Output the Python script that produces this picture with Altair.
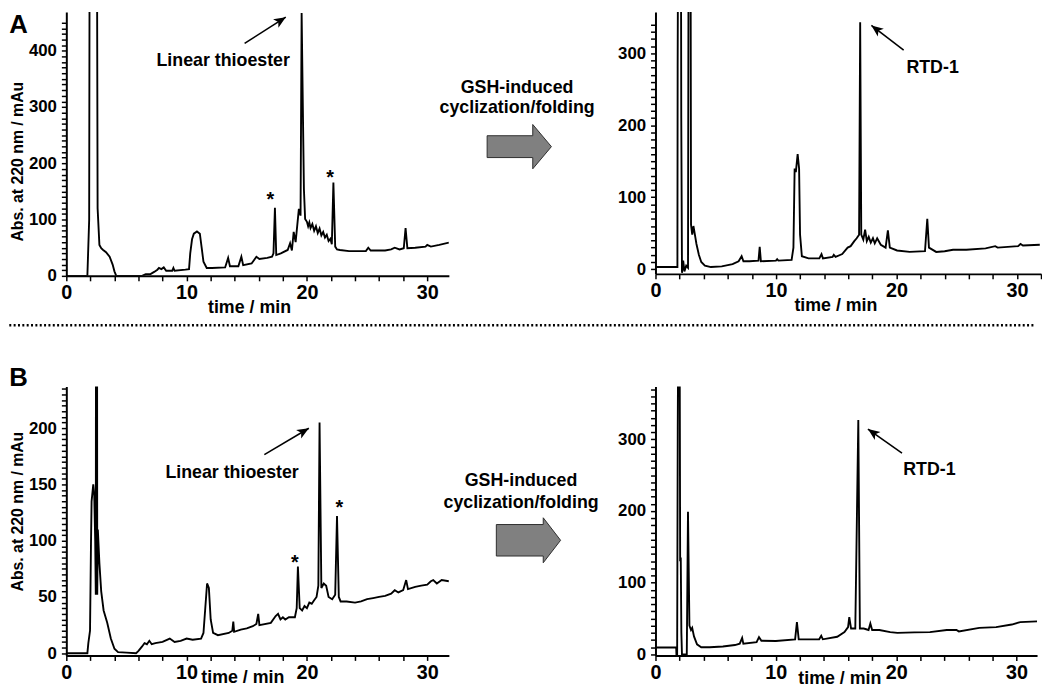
import math
import altair as alt
import pandas as pd

FONT = "Liberation Sans"

# ---------------- data ----------------
# Panel A, left: linear thioester crude
A_LEFT_TIME = [0, 1.75, 1.9, 2.0, 2.45, 2.6, 2.75, 2.9, 3.06, 3.3, 3.6, 3.85, 4.0, 4.15,
               6.3, 6.6, 7.0, 7.3, 7.57, 7.7, 7.9, 8.1, 8.3, 8.8, 8.9, 9.0, 9.9, 10.2,
               10.3, 10.45, 10.6, 10.86, 11.1, 11.25, 11.4, 11.67, 12.1, 13.2, 13.45, 13.6,
               14.3, 14.55, 14.7, 15.4, 15.8, 16.05, 16.7, 17.1, 17.22, 17.34, 17.45, 17.83,
               18.4, 18.6, 18.75, 18.9, 19.06, 19.33, 19.47, 19.56, 19.66, 19.75, 19.85,
               20.0, 20.1, 20.2, 20.3, 20.45, 20.6, 20.75, 20.9, 21.05, 21.2, 21.35, 21.5,
               21.65, 21.8, 21.95, 22.07, 22.2, 22.35, 22.5, 22.75, 23.5, 24.1, 24.9, 25.1,
               25.3, 26.5, 27.0, 27.3, 27.7, 28.05, 28.2, 28.35, 29.0, 29.86, 30.0, 30.3,
               31.0, 31.8]
A_LEFT_ABS = [0, 0, 100, 1500, 1500, 120, 55, 49, 46, 42, 34, 20, 8, 0,
              0, 3, 3, 7, 11, 14, 12, 15, 9, 9, 14, 9, 11, 12,
              40, 65, 75, 79, 75, 50, 25, 14, 14, 15, 32, 17,
              17, 34, 19, 22, 34, 30, 32, 34, 40, 121, 37, 40,
              46, 58, 45, 78, 60, 119, 107, 467, 300, 154, 101,
              96, 88, 95, 85, 92, 80, 88, 76, 84, 72, 78, 68,
              73, 62, 66, 56, 166, 52, 47, 46, 44, 44, 44, 50,
              45, 45, 47, 50, 47, 49, 85, 49, 50, 52, 55, 52,
              55, 59]

# Panel A, right: after GSH-induced cyclization/folding
A_RIGHT_TIME = [0, 1.82, 1.84, 1.9, 2.1, 2.14, 2.2, 2.3, 2.4, 2.55, 2.7, 2.76, 2.9, 2.95,
                3.05, 3.15, 3.25, 3.4, 3.6, 3.8, 4.1, 4.6, 5.5, 6.4, 6.9, 7.15, 7.3, 7.8,
                8.55, 8.65, 8.75, 10.0, 10.1, 10.2, 11.3, 11.45, 11.55, 11.65, 11.8, 11.92,
                12.0, 12.15, 12.7, 13.6, 13.78, 13.9, 14.7, 14.8, 14.95, 15.5, 15.95, 16.2,
                16.5, 16.7, 16.9, 16.99, 17.08, 17.25, 17.4, 17.54, 17.7, 17.87, 18.05,
                18.2, 18.4, 18.7, 19.1, 19.29, 19.45, 20.05, 21.1, 22.37, 22.56, 22.7,
                23.3, 24.0, 24.7, 25.8, 27.4, 28.2, 28.4, 30.1, 30.3, 30.5, 31.9]
A_RIGHT_ABS = [3, 3, 280, 600, 600, 210, -5, 12, -3, 5, 2, 600, 600, 62,
               48, 60, 50, 35, 20, 10, 5, 3, 4, 7, 11, 18, 11, 11,
               12, 31, 11, 12, 14, 12, 13, 30, 140, 135, 160, 140,
               48, 18, 15, 15, 21, 15, 17, 20, 17, 21, 30, 32,
               39, 43, 48, 343, 48, 41, 55, 39, 45, 37, 43,
               36, 43, 34, 30, 54, 30, 26, 24, 25, 70, 30,
               24, 25, 27, 27, 29, 32, 30, 32, 35, 33, 34]

# Panel B, left: linear thioester crude
B_LEFT_TIME = [0, 1.75, 1.83, 1.97, 2.05, 2.1, 2.24, 2.32, 2.4, 2.45, 2.47, 2.55, 2.57,
               2.62, 2.75, 2.9, 3.1, 3.4, 3.7, 4.0, 4.3, 5.0, 5.8, 6.0, 6.3, 6.5, 6.7,
               6.9, 7.1, 7.4, 8.0, 8.6, 9.0, 9.5, 10.0, 10.5, 11.2, 11.4, 11.55, 11.7,
               11.85, 12.0, 12.2, 12.6, 13.5, 13.8, 13.88, 13.95, 14.5, 15.0, 15.5, 15.8,
               15.95, 16.05, 17.0, 17.4, 17.6, 17.8, 18.0, 18.2, 18.5, 19.0, 19.15, 19.25,
               19.4, 19.6, 19.8, 20.0, 20.2, 20.4, 20.6, 20.8, 20.95, 21.05, 21.2, 21.4,
               21.6, 21.8, 22.1, 22.35, 22.5, 22.65, 22.8, 23.3, 24.0, 24.5, 25.0, 25.5,
               26.0, 26.5, 27.0, 27.3, 27.6, 28.0, 28.25, 28.4, 29.0, 29.5, 30.0, 30.3,
               30.5, 30.8, 31.2, 31.8]
B_LEFT_ABS = [0, 0, 9, 20, 97, 135, 150, 141, 100, 52, 400, 400, 52,
              110, 80, 55, 38, 27, 13, 4, 1, 0.5, 0, 2, 6, 9, 8,
              11, 8, 9, 10, 13, 10, 11, 13, 12, 13, 18, 40, 62,
              58, 30, 18, 16, 18, 20, 28, 19, 21, 22, 24, 26,
              35, 25, 27, 33, 35, 30, 32, 30, 32, 32, 40, 77,
              40, 38, 42, 40, 45, 44, 47, 50, 60, 205, 58, 62,
              60, 50, 48, 52, 122, 50, 46, 46, 45, 46, 48, 49,
              50, 51, 53, 56, 54, 56, 65, 57, 59, 60, 61, 64,
              65, 62, 65, 64]

# Panel B, right: after GSH-induced cyclization/folding
B_RIGHT_TIME = [0, 1.72, 1.74, 1.8, 1.85, 1.9, 2.0, 2.05, 2.1, 2.15, 2.2, 2.6, 2.7, 2.82,
                2.95, 3.05, 3.2, 3.45, 3.8, 4.5, 5.6, 6.6, 7.0, 7.2, 7.3, 8.4, 8.6, 8.8,
                10.0, 11.6, 11.75, 11.9, 13.6, 13.77, 13.9, 15.1, 15.7, 16.0, 16.1, 16.25,
                16.6, 16.85, 16.98, 17.3, 17.7, 17.85, 18.0, 18.6, 19.5, 20.1, 21.5, 22.8,
                24.2, 25.0, 25.2, 26.9, 28.3, 29.6, 30.3, 31.7]
B_RIGHT_ABS = [9.5, 9.5, 0, 0, 315, 500, 500, 130, 135, 30, 0, 0, 199, 40,
               34, 37, 25, 14, 10, 10, 11, 13, 15, 23, 15, 17, 24, 19,
               18.6, 21, 45, 21, 21, 26, 21, 24.6, 31, 38, 52, 36,
               36, 327, 36, 36, 34, 43, 34, 34, 31, 30, 30.6, 31,
               34, 34, 32, 37, 38, 41.6, 45, 46]

# annotations (data coordinates)
PRODUCT_LABELS = ["Linear thioester", "RTD-1", "Linear thioester", "RTD-1"]
LABEL_TIME = [13.04, 23.0, 13.78, 22.76]
LABEL_ABS = [382, 279, 160.4, 257]
ARROW_FROM_TIME = [14.82, 20.6, 16.46, 20.48]
ARROW_FROM_ABS = [413, 304.4, 176.5, 280.7]
ARROW_TO_TIME = [18.24, 17.92, 20.16, 17.65]
ARROW_TO_ABS = [459.7, 338.7, 200, 314.2]
STAR_A_TIME = [16.96, 21.93]
STAR_A_ABS = [125, 163]
STAR_B_TIME = [19.0, 22.7]
STAR_B_ABS = [75, 124]
PANEL_LETTERS = ["A", "B"]
MID_LINES = ["GSH-induced", "cyclization/folding"]
X_TITLE = "time / min"
Y_TITLE = "Abs. at 220 nm / mAu"

# small arrow head (tip at 0,0); large path coords keep the symbol's bounds small
HEAD = "M0,0 L2,4.8 L0,3.6 L-2,4.8 Z"


def head_angle(t0, v0, t1, v1, xdom, ydom, w, h):
    sx = w / (xdom[1] - xdom[0])
    sy = h / (ydom[1] - ydom[0])
    dx = (t1 - t0) * sx
    dy = -(v1 - v0) * sy
    return math.degrees(math.atan2(dx, -dy)) % 360


def panel(i, time, absv, xdom, ydom, w, h, ystep, ylab, xtitle_xy,
          ytitle_y=None, stars=None, letter=None, letter_y=0, divider_y=None,
          top_room=0):
    xvals = [v for v in range(0, 33, 2) if v <= xdom[1]]
    units_px = (ydom[1] - ydom[0]) / h
    ymax_tick = ydom[1] - top_room * units_px
    yvals = [v for v in range(0, 1000, ystep) if v <= ymax_tick]
    xaxis = alt.Axis(values=xvals, labelExpr="datum.value % 10 === 0 ? datum.label : ''",
                     title=X_TITLE, titleX=xtitle_xy[0], titleY=xtitle_xy[1],
                     titleAlign="center", titleBaseline="middle", titleFontSize=18,
                     tickSize=5, tickWidth=1.5, domainWidth=2, labelPadding=2,
                     labelFontSize=20, labelFlush=False, labelOverlap=False, grid=False)
    if ytitle_y is not None:
        yaxis = alt.Axis(values=yvals,
                         labelExpr="datum.value %% %d === 0 ? datum.label : ''" % ylab,
                         title=Y_TITLE, titleX=-49, titleY=ytitle_y, titleAngle=270,
                         titleAlign="center", titleBaseline="middle", titleFontSize=16,
                         tickSize=5, tickWidth=1.5, domainWidth=2, labelPadding=5,
                         labelFontSize=17, labelOverlap=False, grid=False)
    else:
        yaxis = alt.Axis(values=yvals,
                         labelExpr="datum.value %% %d === 0 ? datum.label : ''" % ylab,
                         title=None, tickSize=5, tickWidth=1.5, domainWidth=2,
                         labelPadding=5, labelFontSize=17, labelOverlap=False, grid=False)
    X = alt.X("t:Q", scale=alt.Scale(domain=xdom, nice=False, zero=False), axis=xaxis)
    Y = alt.Y("v:Q", scale=alt.Scale(domain=ydom, nice=False, zero=False), axis=yaxis)

    df = pd.DataFrame({"t": time, "v": absv, "i": list(range(len(time)))})
    line = alt.Chart(df).mark_line(color="black", strokeWidth=1.9, clip=True).encode(
        x=X, y=Y, order="i:Q")

    lab = pd.DataFrame({"t": [LABEL_TIME[i]], "v": [LABEL_ABS[i]], "s": [PRODUCT_LABELS[i]]})
    text = alt.Chart(lab).mark_text(fontSize=18, align="center", baseline="middle").encode(
        x=X, y=Y, text="s:N")

    arr = pd.DataFrame({"t": [ARROW_FROM_TIME[i]], "v": [ARROW_FROM_ABS[i]],
                        "t2": [ARROW_TO_TIME[i]], "v2": [ARROW_TO_ABS[i]]})
    rule = alt.Chart(arr).mark_rule(color="black", strokeWidth=1.6).encode(
        x=X, y=Y, x2="t2:Q", y2="v2:Q")
    ang = head_angle(ARROW_FROM_TIME[i], ARROW_FROM_ABS[i], ARROW_TO_TIME[i],
                     ARROW_TO_ABS[i], xdom, ydom, w, h)
    tip = pd.DataFrame({"t": [ARROW_TO_TIME[i]], "v": [ARROW_TO_ABS[i]]})
    head = alt.Chart(tip).mark_point(shape=HEAD, size=25, filled=True, color="black",
                                     opacity=1, angle=ang).encode(x=X, y=Y)
    layers = [line, text, rule, head]
    if stars is not None:
        sdf = pd.DataFrame({"t": stars[0], "v": stars[1], "s": ["*"] * len(stars[0])})
        layers.append(alt.Chart(sdf).mark_text(fontSize=20, align="center",
                                               baseline="alphabetic").encode(
            x=X, y=Y, text="s:N"))
    if letter is not None:
        layers.append(alt.Chart(alt.Data(values=[{"k": 0}])).mark_text(
            fontSize=26, align="left", baseline="top").encode(
            x=alt.value(-57.7), y=alt.value(letter_y), text=alt.value(letter)))
    if divider_y is not None:
        layers.append(alt.Chart(alt.Data(values=[{"k": 0}])).mark_rule(
            color="black", strokeWidth=2.5, strokeDash=[2, 2.4]).encode(
            x=alt.value(-57.7), x2=alt.value(980), y=alt.value(divider_y)))
    return alt.layer(*layers).properties(width=w, height=h)


def middle(w, h, tx, ty1, ty2, ax, ay, path):
    base = alt.Chart(alt.Data(values=[{"k": 0}]))
    t1 = base.mark_text(fontSize=18, align="center", baseline="middle").encode(
        x=alt.value(tx), y=alt.value(ty1), text=alt.value(MID_LINES[0]))
    t2 = base.mark_text(fontSize=18, align="center", baseline="middle").encode(
        x=alt.value(tx), y=alt.value(ty2), text=alt.value(MID_LINES[1]))
    arrow = base.mark_point(shape=path, size=4225, filled=True, fill="#808080",
                            stroke="#2e2e2e", strokeWidth=1, opacity=1).encode(
        x=alt.value(ax), y=alt.value(ay))
    return alt.layer(t1, t2, arrow).properties(width=w, height=h)


BIG_A = "M-1,-0.34 L0.42,-0.34 L0.42,-0.69 L1,0 L0.42,0.69 L0.42,0.34 L-1,0.34 Z"
BIG_B = "M-1,-0.49 L0.46,-0.49 L0.46,-0.70 L1,0 L0.46,0.70 L0.46,0.49 L-1,0.49 Z"

a_left = panel(0, A_LEFT_TIME, A_LEFT_ABS, [0, 31.8], [0, 469], 387, 267, 10, 100,
               (184.8, 32), ytitle_y=151, stars=(STAR_A_TIME, STAR_A_ABS),
               letter=PANEL_LETTERS[0], letter_y=0, divider_y=317, top_room=9)
a_right = panel(1, A_RIGHT_TIME, A_RIGHT_ABS, [0, 32], [-6.5, 357.5], 390, 265, 10, 100,
                (182, 32), top_room=9)
b_left = panel(2, B_LEFT_TIME, B_LEFT_ABS, [0, 31.8], [-2, 237], 387, 272, 5, 50,
               (178, 22), ytitle_y=126, stars=(STAR_B_TIME, STAR_B_ABS),
               letter=PANEL_LETTERS[1], letter_y=-22)
b_right = panel(3, B_RIGHT_TIME, B_RIGHT_ABS, [0, 31.7], [-1.5, 373.5], 386, 272, 10, 100,
                (186, 23))

mid_a = middle(205, 267, 69, 77, 97, 71.2, 136.3, BIG_A)
mid_b = middle(209, 272, 73, 96, 118, 80.5, 155.5, BIG_B)

chart = alt.concat(a_left, mid_a, a_right, b_left, mid_b, b_right, columns=3,
                   spacing={"row": 112, "column": 0}, bounds="flush", align="none").properties(
    padding=0
).configure_view(strokeWidth=0).configure_axis(
    labelFont=FONT, titleFont=FONT, labelFontWeight="bold", titleFontWeight="bold",
    labelColor="black", titleColor="black", domainColor="black", tickColor="black"
).configure_text(font=FONT, fontWeight="bold", color="black")

chart.save("out.html", embed_options={"renderer": "svg", "actions": False})
